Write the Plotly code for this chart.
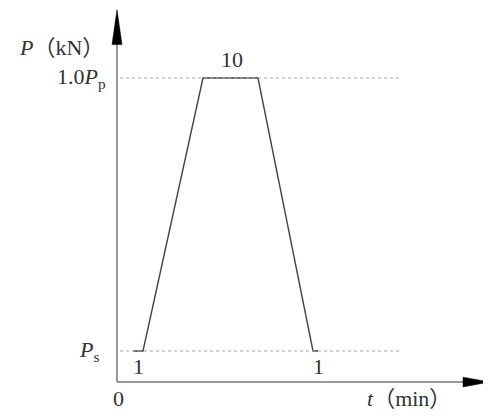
import plotly.graph_objects as go

# Loading schedule (schematic units)
t_vals = [1.6, 2.6, 8.6, 14.1, 19.6, 20.1]
p_vals = [0.102, 0.102, 1.0, 1.0, 0.102, 0.102]
hold_labels = ["1", "10", "1"]
hold_x = [2.1, 11.5, 20.1]
hold_y = [0.05, 1.06, 0.05]
ref_levels = [1.0, 0.102]
ref_end = 28.3

# page body has an 8px margin; figure sized to fit the window
X_MIN, X_MAX = -10.9, 37.4
Y_MIN, Y_MAX = -0.1118, 1.2303

fig = go.Figure()
fig.add_trace(go.Scatter(x=t_vals, y=p_vals, mode="lines",
                         line=dict(color="#444444", width=1.4), hoverinfo="skip"))

font = dict(family="Liberation Serif, Noto Sans CJK SC, serif", size=22, color="#333333")
shapes = []
for lv in ref_levels:
    shapes.append(dict(type="line", x0=0.3, x1=ref_end, y0=lv, y1=lv,
                       line=dict(color="#aaaaaa", width=1.2, dash="dot")))
# axes
shapes.append(dict(type="line", x0=0, x1=0, y0=0, y1=1.14, line=dict(color="#777777", width=1.5)))
shapes.append(dict(type="line", x0=0, x1=35, y0=0, y1=0, line=dict(color="#777777", width=1.5)))
# arrowheads
shapes.append(dict(type="path", path="M -0.5 1.11 L 0 1.225 L 0.5 1.11 Z",
                   fillcolor="black", line=dict(color="black", width=0.5)))
shapes.append(dict(type="path", path="M 34.6 0.016 L 37.3 0 L 34.6 -0.016 Z",
                   fillcolor="black", line=dict(color="black", width=0.5)))

annotations = []
for lab, x, y in zip(hold_labels, hold_x, hold_y):
    annotations.append(dict(x=x, y=y, text=lab, showarrow=False, font=font,
                            xanchor="center", yanchor="middle"))
annotations += [
    dict(x=-0.9, y=1.0, text="1.0<i>P</i><sub>p</sub>", showarrow=False, font=font,
         xanchor="right", yanchor="middle"),
    dict(x=-1.6, y=0.102, text="<i>P</i><sub>s</sub>", showarrow=False, font=font,
         xanchor="right", yanchor="middle"),
    dict(x=-5.6, y=1.1, text="<i>P</i>（kN）", showarrow=False, font=font,
         xanchor="center", yanchor="middle"),
    dict(x=0.1, y=-0.055, text="0", showarrow=False, font=font,
         xanchor="center", yanchor="middle"),
    dict(x=29.2, y=-0.055, text="<i>t</i>（min）", showarrow=False, font=font,
         xanchor="center", yanchor="middle"),
]

fig.update_layout(
    width=483, height=408, margin=dict(l=0, r=0, t=0, b=0),
    plot_bgcolor="white", paper_bgcolor="white", showlegend=False,
    xaxis=dict(range=[X_MIN, X_MAX], visible=False, fixedrange=True),
    yaxis=dict(range=[Y_MIN, Y_MAX], visible=False, fixedrange=True),
    shapes=shapes, annotations=annotations,
)
fig.write_html("out.html")
